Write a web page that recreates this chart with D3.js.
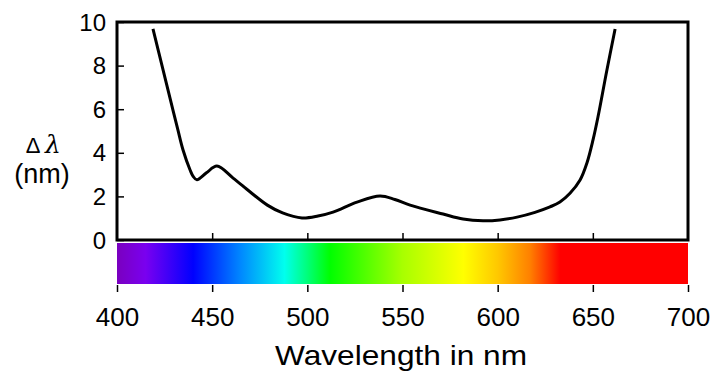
<!DOCTYPE html>
<html>
<head>
<meta charset="utf-8">
<script src="https://cdn.jsdelivr.net/npm/d3@7"></script>
<style>
  body { margin: 0; background: #fff; }
  text { font-family: "Liberation Sans", Arial, sans-serif; fill: #000; }
</style>
</head>
<body>
<div id="chart"></div>
<script>
// wavelength discrimination curve
const wavelength = [418.9, 424.2, 429.4, 432, 434.7, 438.4, 440, 442, 447, 452.5, 461, 470, 479, 487, 497.2, 505.6, 513.5, 526.1, 538.2, 546, 554, 571.3, 581.8, 592.3, 601.2, 610.2, 619.6, 627.5, 632.7, 638, 643.3, 646.9, 650.1, 652.7, 657.4, 661.7];
const deltaLambda = [9.68, 7.8, 5.96, 5.05, 4.13, 3.21, 2.92, 2.76, 3.08, 3.39, 2.84, 2.2, 1.6, 1.24, 1.01, 1.1, 1.28, 1.74, 2.02, 1.86, 1.6, 1.19, 0.96, 0.88, 0.92, 1.05, 1.27, 1.52, 1.74, 2.14, 2.75, 3.53, 4.59, 5.64, 7.8, 9.68];

const xTicks = [400, 450, 500, 550, 600, 650, 700];
const yTicks = [0, 2, 4, 6, 8, 10];

// spectrum bar colour stops
const spectrumWl = [400, 415, 440, 465, 488, 500, 512, 550, 582, 600, 617, 633, 700];
const spectrumColor = ['#7a00bf', '#7a00f0', '#0000ff', '#0088ff', '#00ffee', '#00ff7a', '#00ff00', '#a8ff00', '#ffff00', '#ffc800', '#ff8000', '#ff0000', '#ff0000'];

const width = 713, height = 374;
const margin = {top: 22, right: 25, bottom: 134, left: 117};
const barTop = 243, barBottom = 284;

const svg = d3.select('#chart')
  .append('svg')
    .attr('width', width)
    .attr('height', height);

const x = d3.scaleLinear()
  .domain([400, 700])
  .range([margin.left, width - margin.right]);

const y = d3.scaleLinear()
  .domain([0, 10])
  .range([height - margin.bottom, margin.top]);

// gradient
const grad = svg.append('defs').append('linearGradient')
  .attr('id', 'spectrum')
  .attr('x1', '0%').attr('x2', '100%')
  .attr('y1', '0%').attr('y2', '0%');

grad.selectAll('stop')
  .data(spectrumWl)
  .join('stop')
    .attr('offset', (d) => ((d - 400) / 300 * 100) + '%')
    .attr('stop-color', (d, i) => spectrumColor[i]);

svg.append('rect')
  .attr('x', x(400))
  .attr('y', barTop)
  .attr('width', x(700) - x(400))
  .attr('height', barBottom - barTop)
  .attr('fill', 'url(#spectrum)');

// inner ticks on the x axis
svg.append('g')
  .attr('transform', `translate(0, ${y(0)})`)
  .call(d3.axisTop(x).tickValues(xTicks.slice(1, -1)).tickSize(7).tickFormat(''))
  .call((g) => g.select('.domain').remove())
  .selectAll('line').attr('stroke-width', 1.5);

// ticks + labels below the spectrum bar
const xb = svg.append('g')
  .attr('transform', `translate(0, ${barBottom + 1})`)
  .call(d3.axisBottom(x).tickValues(xTicks).tickSize(7).tickPadding(16));
xb.select('.domain').remove();
xb.selectAll('line').attr('stroke-width', 1.5);
xb.selectAll('text')
  .style('font-size', '26px')
  .style('font-family', '"Liberation Sans", Arial, sans-serif');

// y axis, ticks pointing inward
const ya = svg.append('g')
  .attr('transform', `translate(${x(400)}, 0)`)
  .call(d3.axisRight(y).tickValues(yTicks).tickSize(7).tickFormat(''));
ya.select('.domain').remove();
ya.selectAll('line').attr('stroke-width', 1.5);

svg.append('g')
  .selectAll('text')
  .data(yTicks)
  .join('text')
    .attr('x', 106)
    .attr('y', (d) => y(d))
    .attr('dy', '0.36em')
    .attr('text-anchor', 'end')
    .style('font-size', '24px')
    .text((d) => d);

// plot frame
svg.append('rect')
  .attr('x', x(400))
  .attr('y', y(10))
  .attr('width', x(700) - x(400))
  .attr('height', y(0) - y(10))
  .attr('fill', 'none')
  .attr('stroke', '#000')
  .attr('stroke-width', 3);

// curve
const line = d3.line()
  .x((d, i) => x(wavelength[i]))
  .y((d) => y(d))
  .curve(d3.curveCatmullRom.alpha(0.5));

svg.append('path')
  .datum(deltaLambda)
  .attr('fill', 'none')
  .attr('stroke', '#000')
  .attr('stroke-width', 3)
  .attr('stroke-linejoin', 'round')
  .attr('d', line);

// axis titles
svg.append('text')
  .attr('x', 33)
  .attr('y', 153)
  .attr('text-anchor', 'middle')
  .style('font-size', '22px')
  .text('Δ');
svg.append('text')
  .attr('x', 53)
  .attr('y', 153)
  .attr('text-anchor', 'middle')
  .style('font-family', '"DejaVu Serif", serif')
  .style('font-style', 'italic')
  .style('font-size', '25px')
  .text('λ');

svg.append('text')
  .attr('x', 42)
  .attr('y', 183)
  .attr('text-anchor', 'middle')
  .style('font-size', '27px')
  .text('(nm)');

svg.append('text')
  .attr('x', 401)
  .attr('y', 365)
  .attr('text-anchor', 'middle')
  .attr('textLength', 252)
  .attr('lengthAdjust', 'spacingAndGlyphs')
  .style('font-size', '28px')
  .text('Wavelength in nm');
</script>
</body>
</html>
